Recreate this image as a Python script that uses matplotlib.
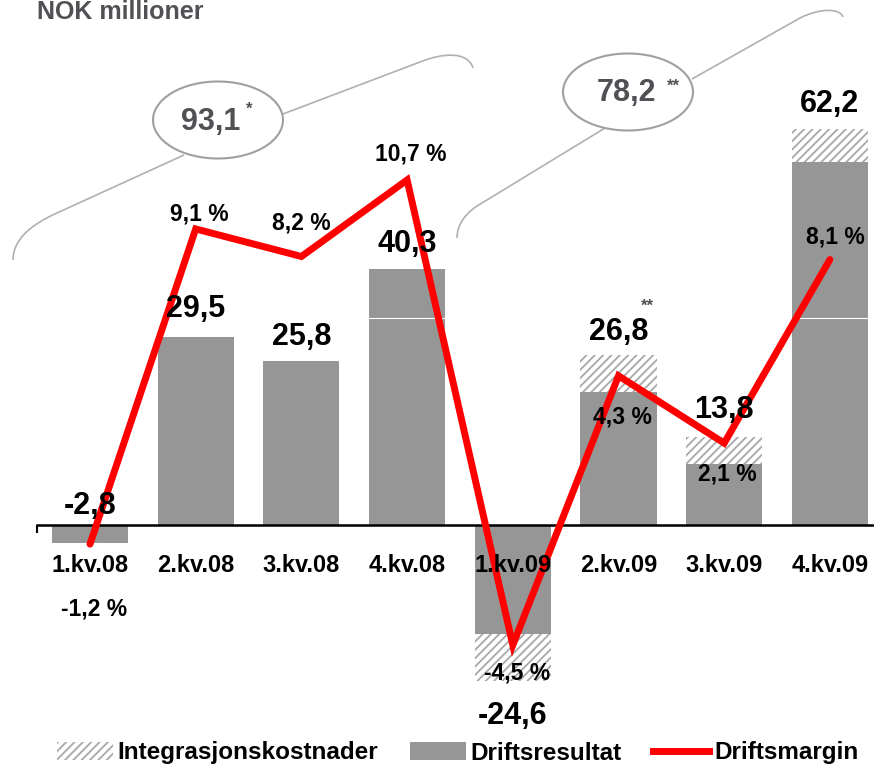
import matplotlib
matplotlib.use("Agg")
import matplotlib.pyplot as plt
import numpy as np
from matplotlib.patches import Patch, Ellipse, PathPatch
from matplotlib.lines import Line2D
from matplotlib.path import Path

plt.rcParams["font.family"] = ["Liberation Sans", "DejaVu Sans"]
plt.rcParams["font.weight"] = "bold"
plt.rcParams["hatch.linewidth"] = 1.3

quarters = ["1.kv.08", "2.kv.08", "3.kv.08", "4.kv.08",
            "1.kv.09", "2.kv.09", "3.kv.09", "4.kv.09"]
driftsresultat = [-2.8, 29.5, 25.8, 40.3, -17.1, 20.9, 9.6, 57.1]
integrasjon = [0.0, 0.0, 0.0, 0.0, -7.5, 5.9, 4.2, 5.1]
totals = [-2.8, 29.5, 25.8, 40.3, -24.6, 26.8, 13.8, 62.2]
margin = [-1.2, 9.1, 8.2, 10.7, -4.5, 4.3, 2.1, 8.1]
sum_2008 = "93,1"
sum_2009 = "78,2"

GREY = "#969696"
HATCH = "#a8a8a8"
RED = "#ff0000"
NOTE = "#505055"


def fmt(v):
    return f"{v:.1f}".replace(".", ",")


W, H = 874, 768
fig = plt.figure(figsize=(W / 100, H / 100), dpi=100)

ax = fig.add_axes([0, 0, 1, 1])
x = np.arange(len(quarters))
ax.bar(x, driftsresultat, width=0.72, color=GREY, zorder=1)
ax.bar(x, integrasjon, bottom=driftsresultat, width=0.72, color="white",
       edgecolor=HATCH, linewidth=0, hatch="////", zorder=1)
ax.axhline(32.5, color="white", lw=0.8, zorder=1.5)

ax.set_xlim((0 - 90) / 105.7, (W - 90) / 105.7)
ax.set_ylim((525 - H) / 6.36, 525 / 6.36)
for s in ["top", "left", "right"]:
    ax.spines[s].set_visible(False)
ax.spines["bottom"].set_position(("data", 0))
ax.spines["bottom"].set_bounds(-0.5, (W - 90) / 105.7)
ax.spines["bottom"].set_linewidth(1.8)
ax.set_yticks([])
ax.set_xticks([-0.5])
ax.set_xticklabels([""])
ax.tick_params(axis="x", length=6, width=1.5, direction="out")
ax.patch.set_visible(False)

ax2 = ax.twinx()
ax2.set_ylim((507.4 - H) / 30.6, 507.4 / 30.6)
ax2.axis("off")
ax2.plot(x, margin, color=RED, lw=5, solid_joinstyle="miter",
         solid_capstyle="round", zorder=2)

# category names drawn on top of the margin line
for xi, q in zip(x, quarters):
    ax2.annotate(q, (xi, 0), xycoords=ax.transData, xytext=(0, -40),
                 textcoords="offset pixels", ha="center", va="center",
                 fontsize=17, fontweight="bold", zorder=5)

pct_offsets = [(4, -65), (4, 15), (0, 33), (4, 26), (4, -28), (4, -41), (3, -31), (5, 23)]
for xi, m, off in zip(x, margin, pct_offsets):
    ax2.annotate(fmt(m) + " %", (xi, m), xytext=off, textcoords="offset pixels",
                 ha="center", va="center", fontsize=16.5, fontweight="bold", zorder=5)

val_offsets = [37, 28, 24, 25, -35, 23, 27, 25]
for xi, t, dy in zip(x, totals, val_offsets):
    ax2.annotate(fmt(t), (xi, t), xycoords=ax.transData, xytext=(0, dy),
                 textcoords="offset pixels", ha="center", va="center",
                 fontsize=22, fontweight="bold", zorder=5)

# overlay in pixel coordinates for notes, braces and legend
ov = fig.add_axes([0, 0, 1, 1], zorder=3)
ov.set_xlim(0, W)
ov.set_ylim(H, 0)
ov.axis("off")

ov.text(37, 19, "NOK millioner", color=NOTE, fontsize=18, fontweight="bold",
        ha="left", va="baseline")

brace_kw = dict(facecolor="none", edgecolor="#b0b0b0", lw=1.2)
M, L, C = Path.MOVETO, Path.LINETO, Path.CURVE4
left_brace = Path(
    [(13, 260), (13, 240), (30, 225), (57, 213), (184, 155),
     (283, 114), (420, 62), (445, 52), (468, 52), (473, 68)],
    [M, C, C, C, L, M, L, C, C, C])
right_brace = Path(
    [(457, 238), (457, 224), (466, 212), (482, 203), (605, 128),
     (692, 79), (800, 18), (820, 8), (840, 8), (843, 17)],
    [M, C, C, C, L, M, L, C, C, C])
ov.add_patch(PathPatch(left_brace, **brace_kw))
ov.add_patch(PathPatch(right_brace, **brace_kw))

ov.add_patch(Ellipse((218, 120), 130, 77, facecolor="none", edgecolor="#a0a0a0", lw=1.5))
ov.add_patch(Ellipse((628, 92), 130, 77, facecolor="none", edgecolor="#a0a0a0", lw=1.5))
ov.text(211, 122, sum_2008, color=NOTE, fontsize=22, fontweight="bold", ha="center", va="center")
ov.text(249, 109, "*", color=NOTE, fontsize=12, fontweight="bold", ha="center", va="center")
ov.text(627, 93, sum_2009, color=NOTE, fontsize=22, fontweight="bold", ha="center", va="center")
ov.text(673, 86, "**", color=NOTE, fontsize=12, fontweight="bold", ha="center", va="center")
ov.text(647, 306, "**", color=NOTE, fontsize=12, fontweight="bold", ha="center", va="center")

handles = [
    Patch(facecolor="white", edgecolor=HATCH, linewidth=0, hatch="////",
          label="Integrasjonskostnader"),
    Patch(facecolor=GREY, label="Driftsresultat"),
    Line2D([], [], color=RED, lw=5, label="Driftsmargin"),
]
fig.legend(handles=handles, loc="center", bbox_to_anchor=(0.5235, 1 - 753 / H),
           ncol=3, frameon=False, fontsize=17.5, handlelength=2.3,
           handletextpad=0.2, columnspacing=1.3, borderaxespad=0)

fig.savefig("out.png", dpi=100)
